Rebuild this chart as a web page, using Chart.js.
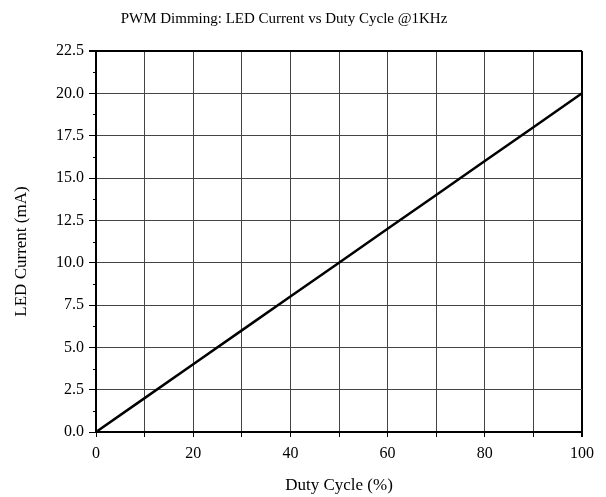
<!DOCTYPE html>
<html>
<head>
<meta charset="utf-8">
<script src="https://cdn.jsdelivr.net/npm/chart.js@4/dist/chart.umd.min.js"></script>
<style>
  html, body { margin: 0; padding: 0; background: #fff; }
  #wrap { width: 606px; height: 497px; }
</style>
</head>
<body>
<div id="wrap"><canvas id="chart"></canvas></div>
<script>
// ── Data ──────────────────────────────────────────────
const dutyCycle = [0, 10, 20, 30, 40, 50, 60, 70, 80, 90, 100];
const ledCurrent = [0, 2, 4, 6, 8, 10, 12, 14, 16, 18, 20];
const yMinorTicks = [1.25, 3.75, 6.25, 8.75, 11.25, 13.75, 16.25, 18.75, 21.25];
const chartTitle = 'PWM Dimming: LED Current vs Duty Cycle @1KHz';
const yTitle = 'LED Current (mA)';
const xTitle = 'Duty Cycle (%)';

const FONT = "'Liberation Serif', 'Times New Roman', serif";

// short minor ticks on the left axis + the two titles placed like the original
const extras = {
  id: 'extras',
  afterDraw(chart) {
    const y = chart.scales.y;
    const area = chart.chartArea;
    const ctx = chart.ctx;
    ctx.save();
    ctx.strokeStyle = '#000';
    ctx.lineWidth = 1;
    yMinorTicks.forEach(v => {
      const py = Math.round(y.getPixelForValue(v)) + 0.5;
      ctx.beginPath();
      ctx.moveTo(area.left - 3, py);
      ctx.lineTo(area.left, py);
      ctx.stroke();
    });

    ctx.fillStyle = '#000';
    ctx.textAlign = 'center';
    ctx.textBaseline = 'middle';
    ctx.font = `15px ${FONT}`;
    ctx.fillText(chartTitle, 284, 19);

    ctx.font = `17px ${FONT}`;
    ctx.translate(22, (area.top + area.bottom) / 2 + 10);
    ctx.rotate(-Math.PI / 2);
    ctx.fillText(yTitle, 0, 0);
    ctx.restore();
  }
};

new Chart(document.getElementById('chart'), {
  type: 'line',
  data: {
    datasets: [{
      data: dutyCycle.map((d, i) => ({ x: d, y: ledCurrent[i] })),
      borderColor: '#000',
      borderWidth: 2.5,
      pointRadius: 0,
      tension: 0,
      fill: false,
    }]
  },
  options: {
    responsive: true,
    maintainAspectRatio: false,
    animation: false,
    layout: { padding: { left: 0, right: 24, top: 51, bottom: 0 } },
    plugins: {
      legend: { display: false },
      tooltip: { enabled: false },
      title: { display: false },
    },
    scales: {
      x: {
        type: 'linear',
        min: 0,
        max: 100,
        afterFit: s => { s.height = 65; },
        border: { color: '#000', width: 2 },
        grid: {
          color: c => c.tick.value === 100 ? '#000' : '#444',
          lineWidth: c => c.tick.value === 100 ? 2 : 1,
          tickColor: '#000',
          tickLength: 5,
        },
        ticks: {
          stepSize: 10,
          color: '#000',
          padding: 7,
          maxRotation: 0,
          autoSkip: false,
          font: { family: FONT, size: 16 },
          callback: v => v % 20 === 0 ? v : '',
        },
        title: {
          display: true,
          text: xTitle,
          color: '#000',
          font: { family: FONT, size: 17 },
          padding: { top: 0, bottom: 1 },
        },
      },
      y: {
        min: 0,
        max: 22.5,
        afterFit: s => { s.width = 96; },
        border: { color: '#000', width: 2 },
        grid: {
          color: c => c.tick.value === 22.5 ? '#000' : '#444',
          lineWidth: c => c.tick.value === 22.5 ? 2 : 1,
          tickColor: '#000',
          tickLength: 7,
        },
        ticks: {
          stepSize: 2.5,
          color: '#000',
          padding: 5,
          font: { family: FONT, size: 16 },
          callback: v => v.toFixed(1),
        },
        title: { display: false },
      },
    },
  },
  plugins: [extras],
});
</script>
</body>
</html>
